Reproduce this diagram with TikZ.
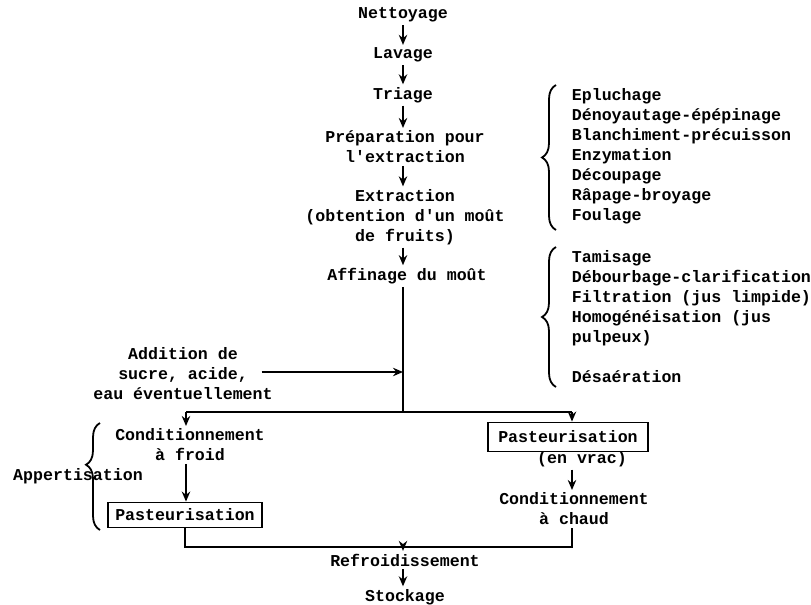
\documentclass[tikz,border=0pt]{standalone}
\usepackage{fontspec}
\setmonofont{Liberation Mono}
\usetikzlibrary{arrows.meta, decorations.pathreplacing, positioning}

\begin{document}
\begin{tikzpicture}[x=0.5pt, y=-0.5pt, line width=0.9pt,
	every node/.style={font=\ttfamily\bfseries\fontsize{8.3}{10}\selectfont, inner sep=1pt, align=center},
	arr/.style={-{Stealth[length=5pt, width=4.2pt]}},
	pbox/.style={draw, inner xsep=3.5pt, minimum height=12.5pt},
	accol/.style={decorate, decoration={brace, amplitude=7pt}}]
	\useasboundingbox (0,0) rectangle (811,605);
	% colonne centrale
	\node (net) at (403,15) {Nettoyage};
	\node (lav) at (403,55) {Lavage};
	\node (tri) at (403,95) {Triage};
	\node (prep) at (405,147) {Préparation pour\\l'extraction};
	\node (extr) at (405,217) {Extraction\\(obtention d'un moût\\de fruits)};
	\node (aff) at (407,276) {Affinage du moût};
	\draw[arr] (net) -- (lav);
	\draw[arr] (lav) -- (tri);
	\draw[arr] (tri) -- (prep.north -| tri);
	\draw[arr] (prep.south -| tri) -- (extr.north -| tri);
	\draw[arr] (extr.south -| tri) -- (aff.north -| tri);
	% listes de droite
	\node[anchor=west, align=left] (liste1) at (569,156) {Epluchage\\Dénoyautage-épépinage\\Blanchiment-précuisson\\Enzymation\\Découpage\\Râpage-broyage\\Foulage};
	\node[anchor=west, align=left] (liste2) at (569,317) {Tamisage\\Débourbage-clarification\\Filtration (jus limpide)\\Homogénéisation (jus\\pulpeux)\\[10pt]Désaération};
	\draw[accol] (556,230) -- (556,85);
	\draw[accol] (556,387) -- (556,247);
	% ajouts
	\node (add) at (183,374) {Addition de\\sucre, acide,\\eau éventuellement};
	\coordinate (jadd) at (403,372);
	\coordinate (split) at (403,412);
	\draw (aff.south -| split) -- (split);
	\draw[arr] ([xshift=-7pt]add.east |- jadd) -- (jadd);
	% deux voies
	\coordinate (lft) at (186,412);
	\coordinate (rgt) at (572,412);
	\node (cfroid) at (190,445) {Conditionnement\\à froid};
	\node[pbox] (past1) at (185,515) {Pasteurisation};
	\node[pbox, inner xsep=5pt, minimum height=14.5pt] (past2) at (568,437) {Pasteurisation};
	\node (vrac) at (582,459) {(en vrac)};
	\node (cchaud) at (574,509) {Conditionnement\\à chaud};
	\draw (lft) -- (rgt);
	\draw[arr] (lft) -- (cfroid.north -| lft);
	\draw[arr] (rgt) -- (past2.north -| rgt);
	\draw[arr] (cfroid.south -| lft) -- (past1.north -| lft);
	\draw[arr] (vrac.south -| rgt) -- (cchaud.north -| rgt);
	\node (appert) at (78,476) {Appertisation};
	\draw[accol, decoration={aspect=0.61}] (100,530) -- (100,423);
	% fin
	\coordinate (bl) at (185,547);
	\coordinate (br) at (572,547);
	\coordinate (jref) at (403,547);
	\node (refr) at (405,560) {Refroidissement};
	\node (stock) at (405,597) {Stockage};
	\draw (past1.south -| bl) -- (bl) -- (br) -- (cchaud.south -| br);
	\draw[arr] (jref) -- (refr.north -| jref);
	\draw[arr] (refr.south -| jref) -- (stock.north -| jref);
\end{tikzpicture}
\end{document}
